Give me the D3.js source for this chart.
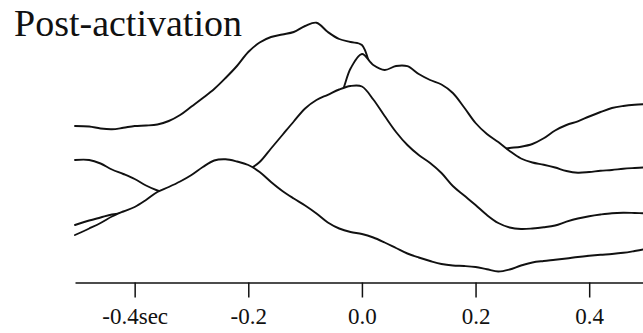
<!DOCTYPE html>
<html>
<head>
<meta charset="utf-8">
<script src="https://cdn.jsdelivr.net/npm/d3@7"></script>
<style>
  html, body { margin: 0; padding: 0; background: #fff; }
  svg { display: block; }
</style>
</head>
<body>
<svg id="chart" width="643" height="333"></svg>
<script>
// Panel title
const title = "Post-activation";

// Time grid (s) shared by all sweeps
const times = [-0.505, -0.48, -0.46, -0.44, -0.42, -0.40, -0.38, -0.36, -0.34, -0.32,
  -0.30, -0.28, -0.26, -0.24, -0.22, -0.20, -0.18, -0.16, -0.14, -0.12,
  -0.10, -0.08, -0.06, -0.04, -0.02, 0.00, 0.02, 0.04, 0.06, 0.08,
  0.10, 0.12, 0.14, 0.16, 0.18, 0.20, 0.22, 0.24, 0.26, 0.28,
  0.30, 0.32, 0.34, 0.36, 0.38, 0.40, 0.42, 0.44, 0.46, 0.48, 0.50];

// Stacked sweeps (offset level included), back row first
const sweep1 = [15.65, 15.60, 15.40, 15.32, 15.47, 15.65, 15.70, 15.80, 16.15, 16.75,
  17.60, 18.45, 19.35, 20.45, 21.65, 23.05, 24.00, 24.55, 24.80, 25.05,
  25.65, 25.98, 25.05, 24.35, 24.05, 23.75, 20.75, 19.25, 18.25, 17.25,
  16.45, 15.65, 14.95, 14.35, 13.85, 13.55, 13.35, 13.30, 13.45, 13.58,
  13.85, 14.42, 15.20, 15.75, 16.12, 16.60, 17.05, 17.45, 17.65, 17.77, 17.83];

const sweep2 = [12.25, 12.25, 11.90, 11.30, 10.85, 10.35, 9.70, 9.20, 8.85, 8.65,
  8.55, 8.55, 8.65, 8.85, 9.25, 9.85, 10.65, 11.65, 12.75, 13.95,
  15.25, 16.45, 17.65, 18.45, 21.40, 22.85, 21.75, 21.25, 21.65, 21.63,
  20.85, 20.25, 19.80, 18.95, 17.50, 15.95, 14.85, 14.05, 13.15, 12.40,
  12.00, 11.78, 11.50, 11.15, 10.98, 11.05, 11.17, 11.25, 11.37, 11.45, 11.52];

const sweep3 = [5.75, 6.20, 6.50, 6.80, 6.95, 7.05, 7.25, 7.55, 7.90, 8.30,
  8.75, 9.25, 9.75, 10.25, 10.75, 11.25, 12.05, 13.40, 14.75, 16.10,
  17.40, 18.25, 18.77, 19.30, 19.65, 19.60, 18.30, 16.65, 15.05, 13.75,
  12.75, 11.95, 10.95, 9.65, 8.70, 7.75, 6.75, 5.95, 5.50, 5.35,
  5.40, 5.52, 5.70, 6.08, 6.40, 6.63, 6.80, 6.93, 6.97, 6.95, 6.92];

const sweep4 = [4.75, 5.40, 5.95, 6.60, 7.10, 7.55, 8.25, 9.05, 9.55, 10.10,
  10.75, 11.55, 12.20, 12.32, 12.10, 11.75, 11.05, 10.05, 9.15, 8.40,
  7.70, 6.90, 6.00, 5.40, 5.05, 4.85, 4.50, 4.00, 3.45, 2.90,
  2.50, 2.15, 1.85, 1.70, 1.65, 1.55, 1.32, 1.10, 1.30, 1.70,
  2.00, 2.15, 2.27, 2.40, 2.55, 2.67, 2.77, 2.85, 2.97, 3.15, 3.35];

// Time axis ticks
const tickValues = [-0.4, -0.2, 0.0, 0.2, 0.4];
const tickLabels = ["-0.4sec", "-0.2", "0.0", "0.2", "0.4"];

const serif = "'Liberation Serif', 'Times New Roman', Times, serif";
const ink = "#111";

const svg = d3.select("#chart");

const x = d3.scaleLinear().domain([-0.505, 0.5]).range([75, 646]);
const y = d3.scaleLinear().domain([0, 28]).range([282.5, 2.5]);

const curve = d3.curveCatmullRom.alpha(0.5);
const line = d3.line()
  .x((d, i) => x(times[i]))
  .y(d => y(d))
  .curve(curve);
const under = d3.area()
  .x((d, i) => x(times[i]))
  .y0(y(0))
  .y1(d => y(d))
  .curve(curve);

// Hidden-line drawing: each nearer sweep masks the ones behind it
const sweeps = [sweep1, sweep2, sweep3, sweep4];
const plot = svg.append("g");
sweeps.forEach(s => {
  plot.append("path").datum(s).attr("d", under).attr("fill", "#fff");
  plot.append("path").datum(s).attr("d", line)
    .attr("fill", "none")
    .attr("stroke", ink)
    .attr("stroke-width", 1.9)
    .attr("stroke-linejoin", "round")
    .attr("stroke-linecap", "round");
});

// Time axis
const axis = d3.axisBottom(x)
  .tickValues(tickValues)
  .tickFormat((d, i) => tickLabels[i])
  .tickSize(15)
  .tickSizeOuter(0);

const gx = svg.append("g")
  .attr("transform", `translate(0,${y(0)})`)
  .call(axis)
  .attr("font-family", serif)
  .attr("font-size", 23);
gx.select(".domain").attr("stroke", ink).attr("stroke-width", 1.5);
gx.selectAll(".tick line").attr("stroke", ink).attr("stroke-width", 1.5);
gx.selectAll(".tick text")
  .attr("y", 41)
  .attr("dy", 0)
  .attr("fill", ink);

// Title
svg.append("text")
  .attr("x", 14)
  .attr("y", 36)
  .attr("font-family", serif)
  .attr("font-size", 38)
  .attr("fill", ink)
  .text(title);
</script>
</body>
</html>
